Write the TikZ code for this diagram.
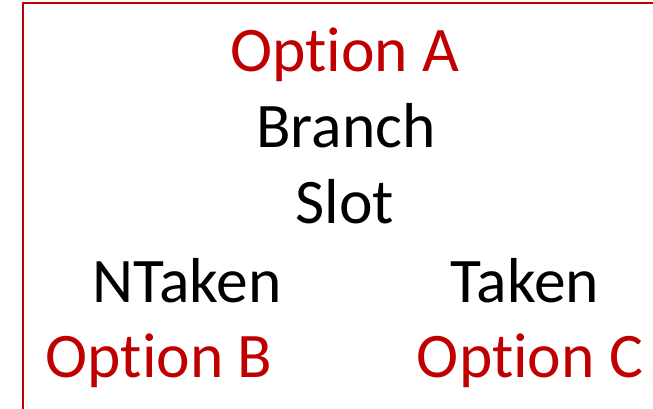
\documentclass[tikz,border=0pt]{standalone}
\usepackage{fontspec}
\setmainfont[Ligatures={NoCommon}]{Carlito}
\definecolor{optred}{HTML}{C00000}
\tikzset{
  lbl/.style={anchor=base, inner sep=0pt, font=\fontsize{63.5}{70}\selectfont},
  opt/.style={lbl, text=optred},
  frame/.style={draw=optred, line width=2.4pt}
}
\begin{document}
\begin{tikzpicture}[x=1pt,y=1pt]
\useasboundingbox (0,0) rectangle (653,409);
\clip (0,0) rectangle (653,409);
\draw[frame] (23,-20) rectangle (690,406);
\node[opt] (optA) at (345,337) {Option A};
\node[lbl] (branch) at (346,261) {Branch};
\node[lbl] (slot) at (345,185) {Slot};
\node[lbl] (ntaken) at (187,106) {NTaken};
\node[lbl] (taken) at (525,106) {Taken};
\node[opt] (optB) at (159,31) {Option B};
\node[opt] (optC) at (530,31) {Option C};
\end{tikzpicture}
\end{document}
